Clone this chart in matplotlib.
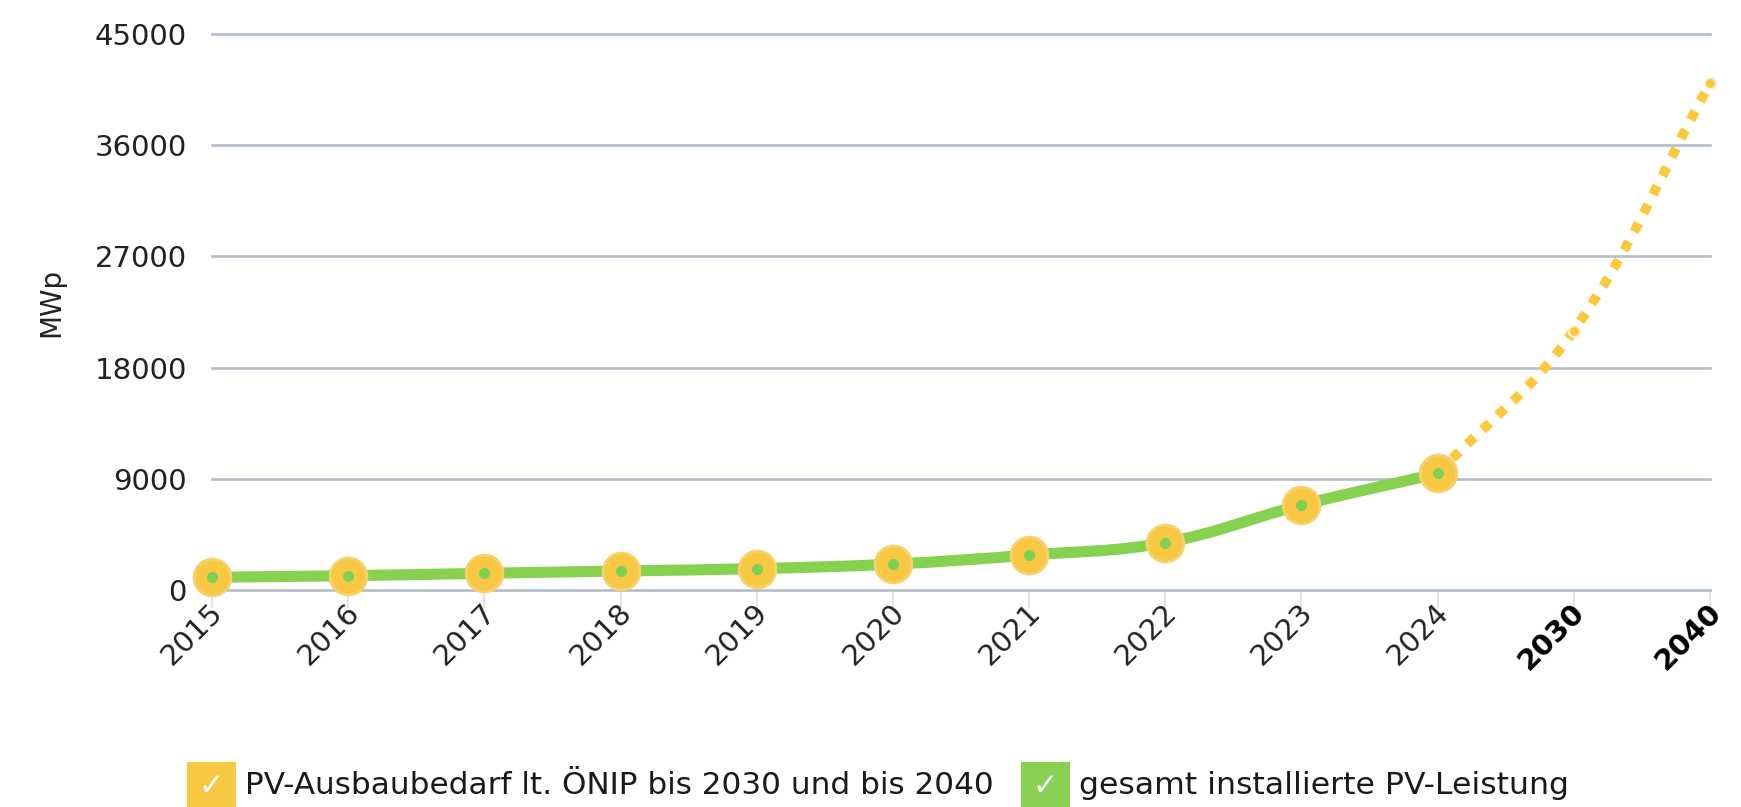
import numpy as np
import matplotlib
matplotlib.use('Agg')
import matplotlib.pyplot as plt
import matplotlib.transforms as mtransforms
from matplotlib.path import Path
from matplotlib.patches import PathPatch, Rectangle

# Daten (MWp)
years = ['2015', '2016', '2017', '2018', '2019', '2020', '2021', '2022', '2023', '2024', '2030', '2040']
installed = [1030, 1160, 1350, 1540, 1730, 2100, 2830, 3840, 6870, 9430]   # 2015-2024
target_years = ['2024', '2030', '2040']
target = [9430, 21000, 41000]
yticks = [0, 9000, 18000, 27000, 36000, 45000]
legend_labels = ['PV-Ausbaubedarf lt. ÖNIP bis 2030 und bis 2040', 'gesamt installierte PV-Leistung']

YELLOW = '#f8c843'
GREEN = '#86d150'
GRID = '#b3bec8'

W, H = 1741, 807
fig = plt.figure(figsize=(W / 100, H / 100), dpi=100)
ax = fig.add_axes([212 / W, 1 - 590 / H, (1710 - 212) / W, (590 - 34) / H])


def spline_path(xs, ys, sx, sy, tension=0.4):
    # Bezier-Kurve wie bei Chart.js (tension)
    px = np.asarray(xs, float) * sx
    py = np.asarray(ys, float) * sy
    n = len(px)
    cp_in, cp_out = [], []
    for i in range(n):
        a, b = max(i - 1, 0), min(i + 1, n - 1)
        d01 = np.hypot(px[i] - px[a], py[i] - py[a])
        d12 = np.hypot(px[b] - px[i], py[b] - py[i])
        tot = d01 + d12 if d01 + d12 > 0 else 1
        fa, fb = tension * d01 / tot, tension * d12 / tot
        cp_in.append((px[i] - fa * (px[b] - px[a]), py[i] - fa * (py[b] - py[a])))
        cp_out.append((px[i] + fb * (px[b] - px[a]), py[i] + fb * (py[b] - py[a])))
    verts = [(px[0], py[0])]
    codes = [Path.MOVETO]
    for i in range(n - 1):
        verts += [cp_out[i], cp_in[i + 1], (px[i + 1], py[i + 1])]
        codes += [Path.CURVE4] * 3
    verts = np.array(verts) / [sx, sy]
    return Path(verts, codes)


sx = (1710 - 212) / (len(years) - 1)
sy = (590 - 34) / 45000

x_inst = [years.index(y) for y in years[:len(installed)]]
x_target = [years.index(y) for y in target_years]

# Zielpfad (gepunktet)
ax.add_patch(PathPatch(spline_path(x_target, target, sx, sy), facecolor='none', edgecolor='#fcc93c',
                       lw=7, linestyle=(0, (1, 1.15)), capstyle='butt', zorder=2, clip_on=False))
ax.plot(x_target[1:], target[1:], 'o', ms=8, color='#fcc93c', mec='#fdf1d2', mew=1.5, zorder=6, clip_on=False)

# installierte Leistung
ax.add_patch(PathPatch(spline_path(x_inst, installed, sx, sy), facecolor='none', edgecolor=GREEN,
                       lw=8, capstyle='round', joinstyle='round', zorder=3, clip_on=False))
ax.plot(x_inst, installed, 'o', ms=26.5, color=YELLOW, mec='#f6d26c', mew=2, zorder=4, clip_on=False)
ax.plot(x_inst, installed, 'o', ms=8, color='#7fd155', mew=0, zorder=5, clip_on=False)

ax.set_xlim(0, len(years) - 1)
ax.set_ylim(0, 45000)
ax.set_yticks(yticks)
ax.set_yticklabels([str(v) for v in yticks], fontsize=21, color='#222222')
ax.set_xticks(range(len(years)))
ax.set_xticklabels(years, fontsize=21, color='#222222', rotation=45, ha='right', va='center',
                   rotation_mode='anchor')
ax.tick_params(axis='y', length=0, pad=18)
ax.tick_params(axis='x', length=13, color='#e4e4e4', width=1.5, pad=0)

# Beschriftungen etwas nach rechts (nach tick_params, sonst zurückgesetzt)
shift = mtransforms.ScaledTranslation(7 / 100, 0, fig.dpi_scale_trans)
for lab in ax.get_xticklabels():
    lab.set_transform(lab.get_transform() + shift)
    if lab.get_text() in ('2030', '2040'):
        lab.set_fontweight('bold')
        lab.set_color('black')

ax.grid(axis='y', color=GRID, lw=1.9)
for gl in ax.get_ygridlines():
    gl.set_clip_on(False)
ax.set_axisbelow(True)
for s in ax.spines.values():
    s.set_visible(False)

fig.text(51 / W, 1 - 302 / H, 'MWp', rotation=90, ha='center', va='center', fontsize=20, color='#222222')

# Legende
boxes = [(187, YELLOW, 245, 751), (1021, '#88cf52', 1079, 489)]
for (bx, col, tx, tw), label in zip(boxes, legend_labels):
    fig.patches.append(Rectangle((bx / W, 0), 49 / W, 45 / H, transform=fig.transFigure,
                                 facecolor=col, edgecolor='none'))
    fig.text((bx + 24.5) / W, 1 - 787 / H, '✓', ha='center', va='center', fontsize=22, color='white')
    t = fig.text(tx / W, 1 - 786 / H, label, ha='left', va='center', fontsize=20, color='#1a1a1a')
    fig.canvas.draw()
    w = t.get_window_extent().width
    t.set_fontsize(20 * tw / w)

fig.savefig('out.png', dpi=100)
